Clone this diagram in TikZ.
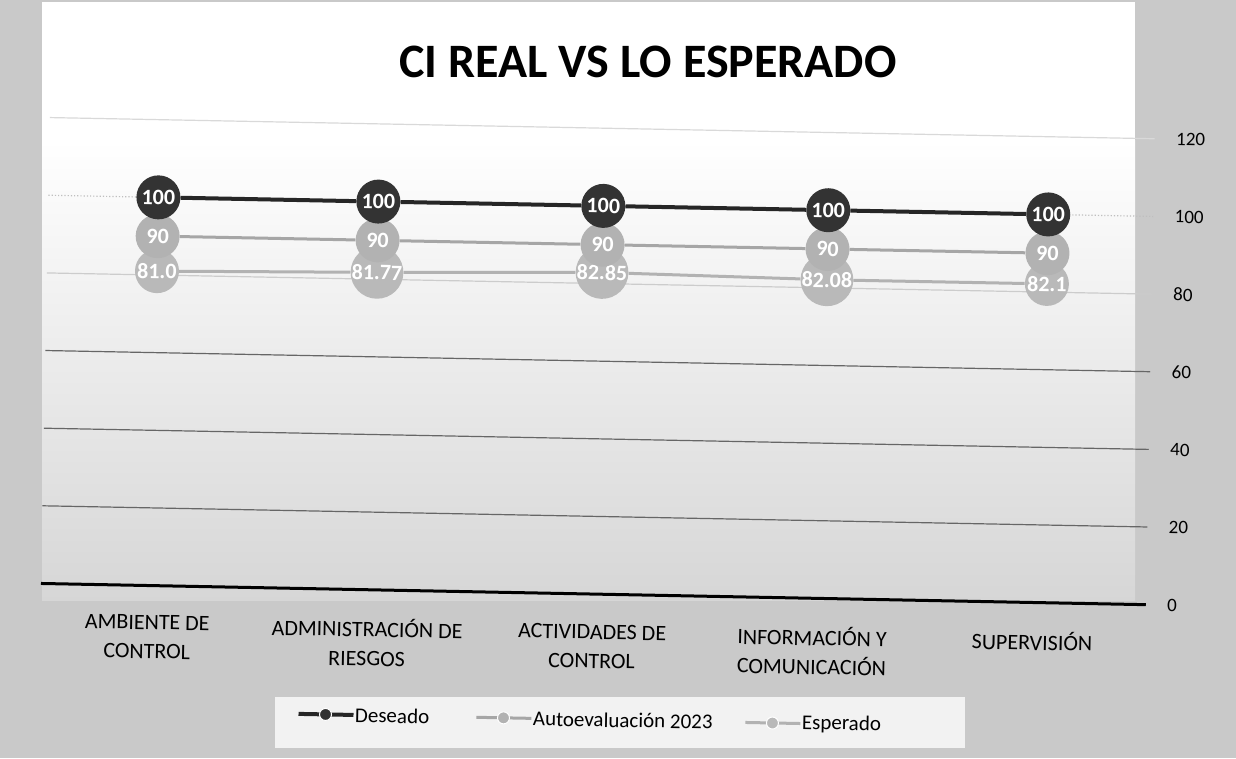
\documentclass[tikz,border=0pt]{standalone}
\usepackage{fontspec}
\setmainfont{Carlito}
\begin{document}
\begin{tikzpicture}[x=1pt,y=-1pt,
  dotD/.style={circle,minimum size=44pt,inner sep=0pt,fill=black!80,text=white,font=\bfseries\fontsize{22}{22}\selectfont},
  dotA/.style={dotD,fill=gray!60},
  dotE/.style={dotD,fill=gray!55},
  lineD/.style={black!85,line width=4pt},
  lineA/.style={gray!70,line width=3pt},
  lineE/.style={gray!60,line width=3pt},
  grid/.style={black!60,line width=1.2pt},
  axis/.style={black,line width=3pt},
  ylab/.style={anchor=west,font=\fontsize{19}{19}\selectfont},
  catlab/.style={align=center,font=\fontsize{22}{29}\selectfont},
  leglab/.style={anchor=west,font=\fontsize{21}{21}\selectfont},
  legdot/.style={circle,minimum size=12pt,inner sep=0pt,draw=white,line width=1pt}]
\useasboundingbox (0,0) rectangle (1236,758);
\fill[gray!42] (0,0) rectangle (1236,758);
\fill[white] (42,2) rectangle (1135,140);
\shade[top color=white,bottom color=gray!32] (42,140) rectangle (1135,600);
\fill[white!90!gray] (275,697) rectangle (965,748);
\node (title) at (648,62) {\bfseries\fontsize{48}{48}\selectfont CI REAL VS LO ESPERADO};
\begin{scope}[rotate around={-1.1:(618,379)},transform shape]
  % gridlines
  \draw[grid,black!15] (45,128.5) -- (1150,128.5);
  \draw[grid,black!25,dotted] (45,206.2) -- (1150,206.2);
  \draw[grid,black!20] (45,283.9) -- (1150,283.9);
  \draw[grid] (45,361.5) -- (1150,361.5);
  \draw[grid] (45,439.2) -- (1150,439.2);
  \draw[grid] (45,516.8) -- (1150,516.8);
  \draw[axis] (45,594.5) -- (1150,594.5);
  % y labels
  \node[ylab] (y120) at (1168,128.5) {120};
  \node[ylab] (y100) at (1168,206.2) {100};
  \node[ylab] (y80) at (1168,283.9) {80};
  \node[ylab] (y60) at (1168,361.5) {60};
  \node[ylab] (y40) at (1168,439.2) {40};
  \node[ylab] (y20) at (1168,516.8) {20};
  \node[ylab] (y0) at (1168,594.5) {0};
  % data nodes
  \node[dotE] (e1) at (155,280.0) {81.0};
  \node[dotE] (e2) at (375,277.0) {81.77};
  \node[dotE] (e3) at (600,272.8) {82.85};
  \node[dotE] (e4) at (825,275.8) {82.08};
  \node[dotE] (e5) at (1045,275.7) {82.1};
  \node[dotA] (a1) at (155,245) {90};
  \node[dotA] (a2) at (375,245) {90};
  \node[dotA] (a3) at (600,245) {90};
  \node[dotA] (a4) at (825,245) {90};
  \node[dotA] (a5) at (1045,245) {90};
  \node[dotD] (d1) at (155,206.2) {100};
  \node[dotD] (d2) at (375,206.2) {100};
  \node[dotD] (d3) at (600,206.2) {100};
  \node[dotD] (d4) at (825,206.2) {100};
  \node[dotD] (d5) at (1045,206.2) {100};
  \draw[lineE] (e1) -- (e2) -- (e3) -- (e4) -- (e5);
  \draw[lineA] (a1) -- (a2) -- (a3) -- (a4) -- (a5);
  \draw[lineD] (d1) -- (d2) -- (d3) -- (d4) -- (d5);
  % categories
  \node[catlab] (c1) at (152,646) {AMBIENTE DE\\CONTROL};
  \node[catlab] (c2) at (372,647) {ADMINISTRACIÓN DE\\RIESGOS};
  \node[catlab] (c3) at (597,647) {ACTIVIDADES DE\\CONTROL};
  \node[catlab] (c4) at (817,647) {INFORMACIÓN Y\\COMUNICACIÓN};
  \node[catlab] (c5) at (1037,633) {SUPERVISIÓN};
  % legend
  \coordinate (lDa) at (305,720); \coordinate (lDb) at (360,720);
  \draw[lineD] (lDa) -- (lDb);
  \node[legdot,fill=black!80] (lDm) at (332,720) {};
  \node[leglab] (lD) at (358,720) {Deseado};
  \coordinate (lAa) at (483,720); \coordinate (lAb) at (538,720);
  \draw[lineA] (lAa) -- (lAb);
  \node[legdot,fill=gray!60] (lAm) at (510,720) {};
  \node[leglab] (lA) at (536,720) {Autoevaluación 2023};
  \coordinate (lEa) at (752,720); \coordinate (lEb) at (807,720);
  \draw[lineE] (lEa) -- (lEb);
  \node[legdot,fill=gray!55] (lEm) at (779,720) {};
  \node[leglab] (lE) at (805,720) {Esperado};
\end{scope}
\end{tikzpicture}
\end{document}
